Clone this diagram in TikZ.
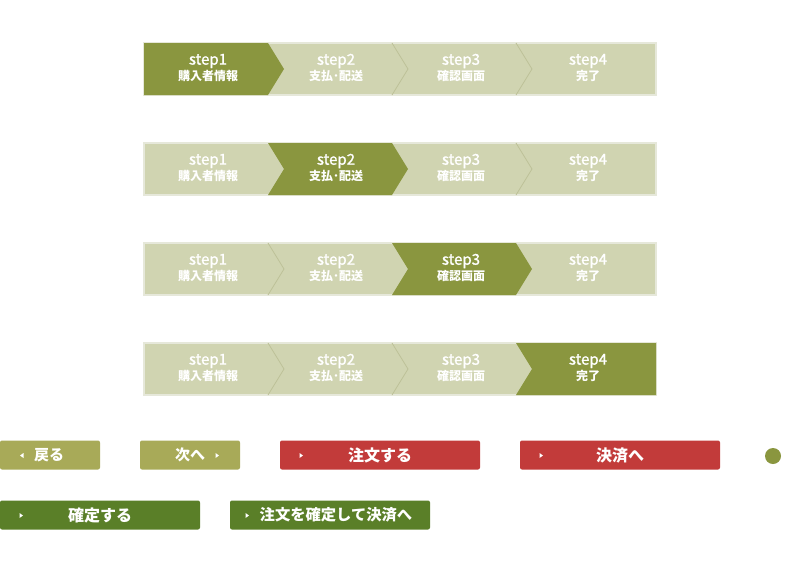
\documentclass[tikz,border=0pt]{standalone}
\usepackage{fontspec}
\newfontfamily\cjk{Noto Sans CJK JP}
\newfontfamily\stepfont{Noto Sans CJK JP}[FakeBold=1.3]
\definecolor{olive}{HTML}{8A963F}
\definecolor{lightol}{HTML}{D0D4B1}
\definecolor{sepline}{HTML}{BDC198}
\definecolor{barrim}{HTML}{E6E8DA}
\definecolor{btnol}{HTML}{A8AA58}
\definecolor{btnred}{HTML}{C23B3A}
\definecolor{btngreen}{HTML}{5A7F28}
\begin{document}
\begin{tikzpicture}[x=1pt,y=-1pt,
  steptxt/.style={text=white,font=\stepfont\fontsize{15}{16}\selectfont},
  jptxt/.style={text=white,font=\cjk\bfseries\fontsize{12}{13}\selectfont},
  btn/.style={rounded corners=2pt,minimum height=29pt,inner sep=0pt,text=white,font=\cjk\bfseries\fontsize{16}{17}\selectfont},
  tri/.style={fill=white}]
\useasboundingbox (0,0) rectangle (800,560);
\foreach \r in {0,1,2,3}{
  \pgfmathsetmacro\T{43+100*\r}
  \pgfmathsetmacro\B{\T+52}
  \pgfmathsetmacro\M{\T+26}
  \pgfmathtruncatemacro\a{\r+1}
  \draw[barrim,line width=1.2pt,fill=lightol] (144,\T) rectangle (656,\B);
  % separators between light segments
  \foreach \i/\x in {1/268,2/392,3/516}{
    \pgfmathtruncatemacro\j{\i+1}
    \ifnum\a=\i\relax\else\ifnum\a=\j\relax\else
      \draw[sepline,line width=0.8pt] (\x,\T) -- (\x+16,\M) -- (\x,\B);
    \fi\fi
  }
  % active segment
  \ifcase\a
  \or \fill[olive] (144,\T) -- (268,\T) -- (284,\M) -- (268,\B) -- (144,\B) -- cycle;
  \or \fill[olive] (268,\T) -- (392,\T) -- (408,\M) -- (392,\B) -- (268,\B) -- (284,\M) -- cycle;
  \or \fill[olive] (392,\T) -- (516,\T) -- (532,\M) -- (516,\B) -- (392,\B) -- (408,\M) -- cycle;
  \or \fill[olive] (516,\T) -- (656,\T) -- (656,\B) -- (516,\B) -- (532,\M) -- cycle;
  \fi
  \foreach \i/\cx/\lab in {1/208/購入者情報,2/336/支払･配送,3/461/確認画面,4/588/完了}{
    \node[steptxt] (s\r-\i) at (\cx,\T+18) {step\i};
    \node[jptxt] (j\r-\i) at (\cx,\T+33) {\lab};
  }
}
% buttons row 1
\node[btn,fill=btnol,minimum width=100pt] (back) at (50,455) {};
\node[btn,font=\cjk\bfseries\fontsize{15}{16}\selectfont] (backt) at (49,455) {戻る};
\fill[tri] (20,455.5) -- (23.5,453) -- (23.5,458) -- cycle;
\node[btn,fill=btnol,minimum width=100pt] (next) at (190,455) {};
\node[btn,font=\cjk\bfseries\fontsize{15}{16}\selectfont] (nextt) at (190,455) {次へ};
\fill[tri] (219,455.5) -- (215.5,453) -- (215.5,458) -- cycle;
\node[btn,fill=btnred,minimum width=200pt] (order) at (380,455) {};
\node[btn] (ordert) at (380,455) {注文する};
\fill[tri] (303,455.5) -- (299.5,453) -- (299.5,458) -- cycle;
\node[btn,fill=btnred,minimum width=200pt] (pay) at (620,455) {};
\node[btn] (payt) at (620,455) {決済へ};
\fill[tri] (543,455.5) -- (539.5,453) -- (539.5,458) -- cycle;
\node[circle,fill=olive,minimum size=16pt,inner sep=0pt] (dot) at (773,456) {};
% buttons row 2
\node[btn,fill=btngreen,minimum width=200pt] (conf) at (100,515) {};
\node[btn] (conft) at (100,515) {確定する};
\fill[tri] (23,515.5) -- (19.5,513) -- (19.5,518) -- cycle;
\node[btn,fill=btngreen,minimum width=200pt] (confpay) at (330,515) {};
\node[btn,font=\cjk\bfseries\fontsize{15.3}{16}\selectfont] (confpayt) at (336,515) {注文を確定して決済へ};
\fill[tri] (249,515.5) -- (245.5,513) -- (245.5,518) -- cycle;
\end{tikzpicture}
\end{document}
